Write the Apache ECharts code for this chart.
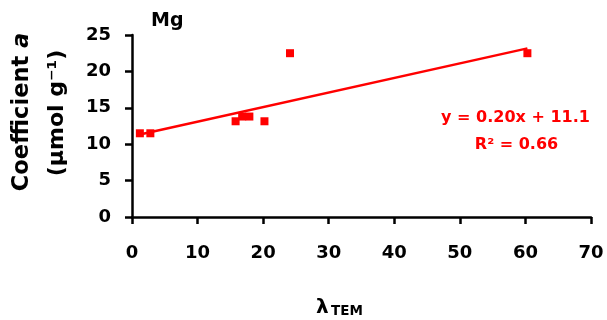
<!DOCTYPE html>
<html>
<head>
<meta charset="utf-8">
<script src="https://cdn.jsdelivr.net/npm/echarts@6/dist/echarts.min.js"></script>
<style>
html,body{margin:0;padding:0;background:#fff;}
#c{width:607px;height:320px;}
</style>
</head>
<body>
<div id="c"></div>
<script>
// Data
const lambdaTEM = [1.2, 2.8, 15.8, 16.8, 17.9, 20.2, 24.1, 60.3];
const coeffA    = [11.5, 11.5, 13.15, 13.8, 13.8, 13.15, 22.5, 22.5];
const xTicks = [0, 10, 20, 30, 40, 50, 60, 70];
const yTicks = [0, 5, 10, 15, 20, 25];
const fitSlope = 0.20;
const fitIntercept = 11.1;
const fitR2 = 0.66;

const FONT = 'DejaVu Sans';
const RED = '#ff0000';

const points = lambdaTEM.map((x, i) => [x, coeffA[i]]);
const xMin = Math.min(...lambdaTEM), xMax = Math.max(...lambdaTEM);
const fitLine = [[xMin, fitSlope * xMin + fitIntercept], [xMax, fitSlope * xMax + fitIntercept]];

const chart = echarts.init(document.getElementById('c'), null, {renderer: 'canvas'});
const axisCommon = {
  axisLine: {show: true, lineStyle: {color: '#000', width: 2.5}},
  axisTick: {show: true, inside: false, length: 7, lineStyle: {color: '#000', width: 2.5}},
  splitLine: {show: false},
  axisLabel: {color: '#000', fontFamily: FONT, fontWeight: 'bold', fontSize: 18}
};
chart.setOption({
  animation: false,
  backgroundColor: '#fff',
  grid: {left: 132, right: 16, top: 35, bottom: 103, containLabel: false},
  xAxis: Object.assign({}, axisCommon, {
    type: 'value', min: xTicks[0], max: xTicks[xTicks.length - 1], interval: 10,
    axisLabel: Object.assign({}, axisCommon.axisLabel, {margin: 27})
  }),
  yAxis: Object.assign({}, axisCommon, {
    type: 'value', min: yTicks[0], max: yTicks[yTicks.length - 1], interval: 5,
    axisLabel: Object.assign({}, axisCommon.axisLabel, {margin: 21})
  }),
  series: [
    {
      type: 'line', data: fitLine, showSymbol: false, symbol: 'none',
      lineStyle: {color: RED, width: 2.5, opacity: 1}, z: 2
    },
    {
      type: 'scatter', data: points, symbol: 'rect', symbolSize: 8,
      itemStyle: {color: RED, opacity: 1}, z: 3
    }
  ],
  graphic: [
    {type: 'text', x: 151, y: 21, style: {text: 'Mg', fontFamily: FONT, fontWeight: 'bold', fontSize: 19, fill: '#000', textAlign: 'left', textVerticalAlign: 'middle'}},
    {type: 'text', x: 22, y: 112, rotation: Math.PI / 2, style: {
      text: '{n|Coefficient }{i|a}', textAlign: 'center', textVerticalAlign: 'middle',
      rich: {
        n: {fontFamily: FONT, fontWeight: 'bold', fontSize: 22.5, fill: '#000'},
        i: {fontFamily: FONT, fontWeight: 'bold', fontStyle: 'italic', fontSize: 22.5, fill: '#000'}
      }
    }},
    {type: 'text', x: 57, y: 113, rotation: Math.PI / 2, style: {
      text: '(µmol g⁻¹)', fontFamily: FONT, fontWeight: 'bold', fontSize: 22, fill: '#000',
      textAlign: 'center', textVerticalAlign: 'middle'
    }},
    {type: 'text', x: 316, y: 308, style: {text: 'λ', fontFamily: FONT, fontWeight: 'bold', fontSize: 20, fill: '#000', textAlign: 'left', textVerticalAlign: 'middle'}},
    {type: 'text', x: 331, y: 311, style: {text: 'TEM', fontFamily: FONT, fontWeight: 'bold', fontSize: 13.5, fill: '#000', textAlign: 'left', textVerticalAlign: 'middle'}},
    {type: 'text', x: 515.5, y: 118, style: {text: 'y = ' + fitSlope.toFixed(2) + 'x + ' + fitIntercept.toFixed(1), fontFamily: FONT, fontWeight: 'bold', fontSize: 16, fill: RED, textAlign: 'center', textVerticalAlign: 'middle'}},
    {type: 'text', x: 516.5, y: 145, style: {text: 'R² = ' + fitR2.toFixed(2), fontFamily: FONT, fontWeight: 'bold', fontSize: 16, fill: RED, textAlign: 'center', textVerticalAlign: 'middle'}}
  ]
});
</script>
</body>
</html>
